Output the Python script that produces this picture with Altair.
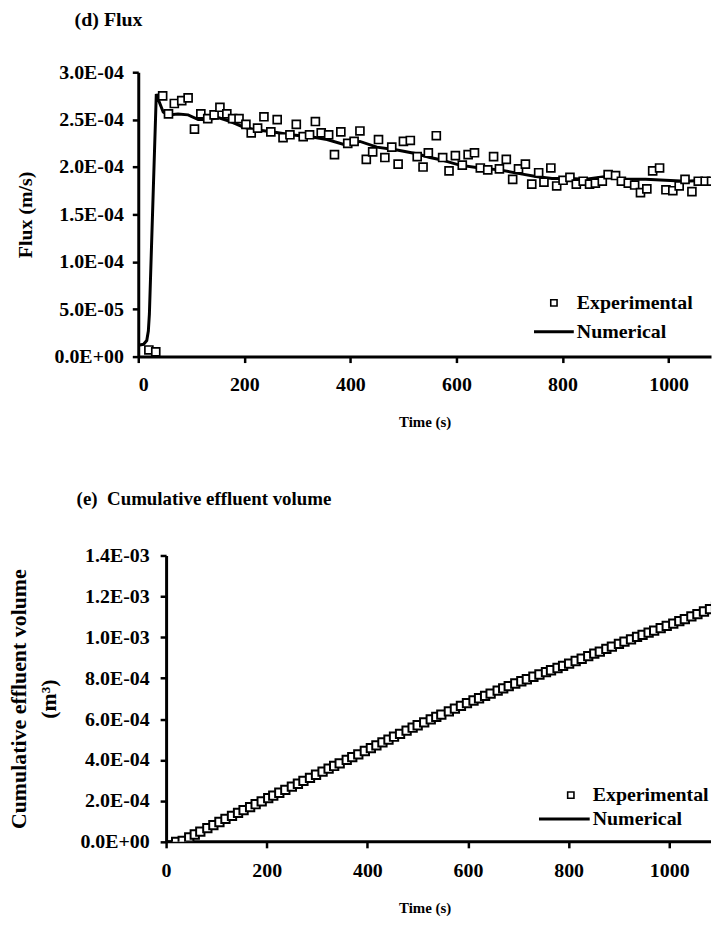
import altair as alt
import pandas as pd

FONT = "Liberation Serif"

# ---------------- (d) Flux ----------------
num_t = [0, 10, 16, 19, 21, 34, 40, 47, 56, 75, 94, 113, 131, 152, 174, 199, 225, 255, 287,
         325, 356, 386, 418, 450, 488, 525, 550, 568, 606, 644, 681, 719, 750, 780, 812,
         844, 882, 919, 957, 994, 1032, 1069, 1094]
num_flux = [0.12, 0.13, 0.17, 0.27, 0.45, 2.77, 2.68, 2.58, 2.55, 2.56, 2.55, 2.50, 2.50, 2.52,
            2.48, 2.42, 2.39, 2.37, 2.34, 2.32, 2.29, 2.24, 2.27, 2.21, 2.18, 2.14, 2.10, 2.08,
            2.02, 1.99, 1.97, 1.93, 1.90, 1.88, 1.88, 1.87, 1.90, 1.87, 1.87, 1.86, 1.85, 1.86,
            1.88]  # x 1e-4 m/s

exp_t = [20, 33, 46, 57, 68, 82, 94, 106, 118, 131, 143, 154, 167, 178, 190, 203, 213, 225,
         237, 250, 262, 273, 286, 298, 311, 323, 334, 345, 359, 370, 382, 395, 407, 418, 430,
         442, 453, 465, 478, 490, 500, 513, 526, 537, 547, 562, 574, 586, 598, 611, 622, 634,
         645, 659, 670, 681, 694, 706, 717, 730, 742, 755, 765, 778, 789, 801, 814, 826, 839,
         851, 862, 875, 886, 900, 911, 924, 936, 947, 959, 970, 983, 995, 1008, 1020, 1031,
         1044, 1056, 1069, 1081, 1093]
exp_flux = [0.07, 0.05, 2.75, 2.56, 2.67, 2.70, 2.73, 2.40, 2.56, 2.51, 2.55, 2.63, 2.56, 2.51,
            2.51, 2.45, 2.36, 2.41, 2.53, 2.37, 2.50, 2.31, 2.34, 2.45, 2.32, 2.34, 2.48, 2.36,
            2.34, 2.13, 2.37, 2.25, 2.27, 2.38, 2.08, 2.16, 2.29, 2.10, 2.21, 2.03, 2.27, 2.28,
            2.11, 2.00, 2.15, 2.33, 2.10, 1.96, 2.12, 2.02, 2.13, 2.15, 1.99, 1.97, 2.11, 1.98,
            2.08, 1.87, 1.98, 2.03, 1.82, 1.94, 1.84, 1.99, 1.80, 1.86, 1.89, 1.82, 1.85, 1.82,
            1.83, 1.85, 1.92, 1.91, 1.85, 1.83, 1.81, 1.73, 1.77, 1.96, 1.99, 1.76, 1.75, 1.80,
            1.87, 1.74, 1.85, 1.85, 1.85, 1.88]  # x 1e-4 m/s

# ---------------- (e) Cumulative effluent volume ----------------
num_vt = [0, 30, 50, 100, 200, 300, 400, 500, 600, 700, 800, 900, 1000, 1100]
num_vol = [0.0, 0.003, 0.03, 0.09, 0.21, 0.33, 0.45, 0.57, 0.68, 0.78, 0.87, 0.97, 1.06, 1.16]  # x 1e-3

exp_vol = [0.0, 0.005, 0.022, 0.036, 0.050, 0.067, 0.082, 0.097, 0.112, 0.127, 0.142, 0.155,
           0.170, 0.184, 0.198, 0.214, 0.226, 0.240, 0.254, 0.270, 0.284, 0.298, 0.313, 0.328,
           0.343, 0.358, 0.371, 0.384, 0.401, 0.414, 0.428, 0.444, 0.458, 0.472, 0.486, 0.500,
           0.514, 0.528, 0.544, 0.558, 0.570, 0.584, 0.599, 0.611, 0.622, 0.638, 0.651, 0.665,
           0.678, 0.691, 0.702, 0.714, 0.725, 0.739, 0.750, 0.761, 0.774, 0.785, 0.795, 0.807,
           0.818, 0.830, 0.839, 0.850, 0.860, 0.871, 0.884, 0.895, 0.908, 0.920, 0.930, 0.943,
           0.954, 0.968, 0.979, 0.990, 1.002, 1.012, 1.023, 1.033, 1.045, 1.056, 1.067, 1.079,
           1.089, 1.102, 1.113, 1.126, 1.138, 1.150]  # x 1e-3 m^3

time_ticks = [0, 200, 400, 600, 800, 1000]
flux_ticks = [0, 5e-5, 1e-4, 1.5e-4, 2e-4, 2.5e-4, 3e-4]
vol_ticks = [0, 2e-4, 4e-4, 6e-4, 8e-4, 1e-3, 1.2e-3, 1.4e-3]
legend_labels = ["Experimental", "Numerical"]
panel_titles = ["(d) Flux", "(e)\u00a0 Cumulative effluent volume"]

label_expr = "datum.value == 0 ? '0.0E+00' : replace(format(datum.value, '.1e'), 'e-', 'E-0')"

df_num = pd.DataFrame({"t": num_t, "v": [f * 1e-4 for f in num_flux]})
df_exp = pd.DataFrame({"t": exp_t, "v": [f * 1e-4 for f in exp_flux]})
df_numv = pd.DataFrame({"t": num_vt, "v": [f * 1e-3 for f in num_vol]})
df_expv = pd.DataFrame({"t": exp_t, "v": [f * 1e-3 for f in exp_vol]})
one = pd.DataFrame({"k": [0]})

txt_style = dict(align="left", baseline="middle", font=FONT, fontWeight="bold", fontSize=20,
                 color="black")


def legend_layers(sx, sy, lx1, lx2, ly, tx):
    return [
        alt.Chart(one).mark_point(shape="square", filled=True, fill="white", stroke="black",
                                  strokeWidth=1.6, size=40, opacity=1)
        .encode(x=alt.value(sx), y=alt.value(sy)),
        alt.Chart(one).mark_text(text=legend_labels[0], **txt_style)
        .encode(x=alt.value(tx), y=alt.value(sy)),
        alt.Chart(one).mark_rule(color="black", strokeWidth=3)
        .encode(x=alt.value(lx1), x2=alt.value(lx2), y=alt.value(ly)),
        alt.Chart(one).mark_text(text=legend_labels[1], **txt_style)
        .encode(x=alt.value(tx), y=alt.value(ly)),
    ]


def panel_title(text, x, y, size):
    return alt.Chart(one).mark_text(text=text, align="left", baseline="middle", font=FONT,
                                    fontWeight="bold", fontSize=size, color="black") \
        .encode(x=alt.value(x), y=alt.value(y))


W = 576

# ---- top panel ----
TH = 286
xt = alt.X("t:Q", scale=alt.Scale(domain=[0, 1080], nice=False, zero=False),
           axis=alt.Axis(values=time_ticks, format="d", title="Time (s)", labelPadding=12,
                         titlePadding=20, titleFontSize=15))
yt = alt.Y("v:Q", scale=alt.Scale(domain=[0, 3e-4], nice=False),
           axis=alt.Axis(values=flux_ticks, labelExpr=label_expr, title="Flux (m/s)",
                         labelPadding=9, titleAngle=-90, titleAlign="center",
                         titleBaseline="alphabetic", titleX=-107, titleY=TH / 2))

top = alt.layer(
    alt.Chart(df_num).mark_line(color="black", strokeWidth=3, clip=True).encode(x=xt, y=yt),
    alt.Chart(df_exp).mark_point(shape="square", filled=True, fill="white", stroke="black",
                                 strokeWidth=1.7, size=64, opacity=1, clip=True)
    .encode(x=xt, y=yt),
    *legend_layers(418, 232, 398, 438, 261, 441),
    panel_title(panel_titles[0], -64, -52, 20),
).properties(width=W, height=TH)

# ---- bottom panel (y axis sits 28 px inside the left edge) ----
BH = 288
xb = alt.X("t:Q", scale=alt.Scale(domain=[-55.3, 1083], nice=False, zero=False),
           axis=alt.Axis(values=time_ticks, format="d", title="Time (s)", labelPadding=13,
                         titlePadding=20, titleFontSize=15, domain=False))
yb = alt.Y("v:Q", scale=alt.Scale(domain=[0, 1.4e-3], nice=False),
           axis=alt.Axis(values=vol_ticks, labelExpr=label_expr, offset=-28,
                         title=["Cumulative effluent volume", "(m\u00b3)"],
                         labelPadding=11, titleAngle=-90, titleAlign="center",
                         titleBaseline="alphabetic", titleX=-141, titleY=BH / 2,
                         titleLineHeight=30, titleFontSize=22))

bottom = alt.layer(
    alt.Chart(one).mark_rule(color="black", strokeWidth=3)
    .encode(x=alt.datum(0), x2=alt.value(W), y=alt.value(BH)),
    alt.Chart(df_numv).mark_line(color="black", strokeWidth=2.5, clip=True).encode(x=xb, y=yb),
    alt.Chart(df_expv).mark_point(shape="square", filled=True, fill="white", stroke="black",
                                  strokeWidth=2, size=70, opacity=1, clip=True)
    .encode(x=xb, y=yb),
    *legend_layers(435, 241, 403, 454, 265, 457),
    panel_title(panel_titles[1], -62, -57, 19),
).properties(width=W, height=BH)

chart = alt.vconcat(top, bottom, spacing=61).properties(padding=0).configure_view(
    stroke=None
).configure_axis(
    domainColor="black", domainWidth=3, tickColor="black", tickWidth=2.5, tickSize=6,
    labelFont=FONT, labelFontWeight="bold", labelFontSize=20, labelColor="black",
    titleFont=FONT, titleFontWeight="bold", titleFontSize=20, titleColor="black", grid=False,
)

chart.save("out.html", embed_options={"renderer": "svg", "actions": False})
